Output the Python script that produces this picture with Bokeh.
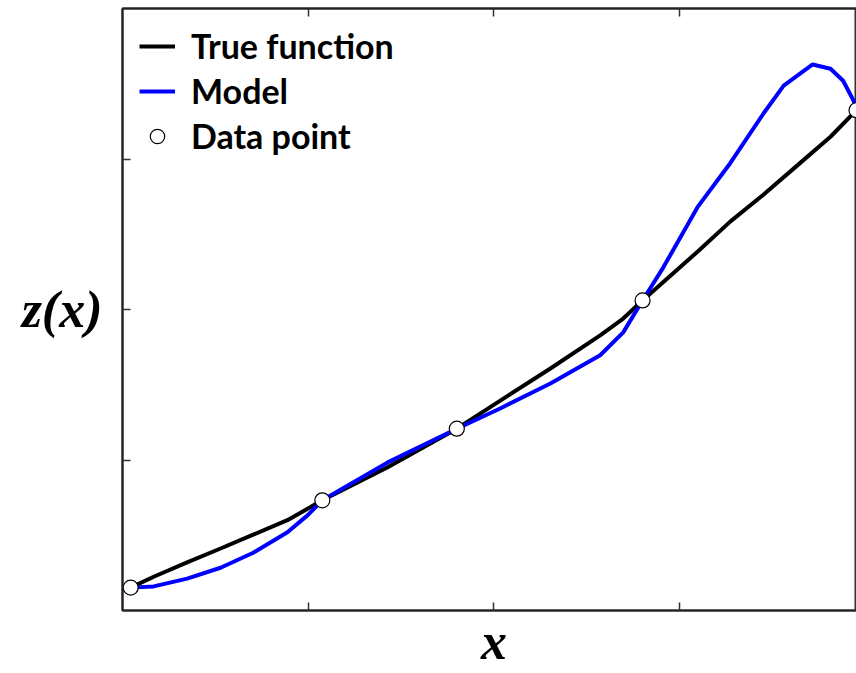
from bokeh.plotting import figure
from bokeh.models import Range1d, FixedTicker, LinearAxis, Legend, LegendItem
from bokeh.embed import file_html
from bokeh.resources import INLINE

# True function
x_true = [0.011, 0.042, 0.087, 0.132, 0.176, 0.222, 0.269, 0.357, 0.450, 0.509,
          0.576, 0.643, 0.674, 0.700, 0.774, 0.818, 0.863, 0.908, 0.953, 0.988]
y_true = [0.038, 0.056, 0.080, 0.103, 0.126, 0.150, 0.183, 0.238, 0.302, 0.349,
          0.402, 0.457, 0.485, 0.515, 0.596, 0.646, 0.691, 0.739, 0.787, 0.831]

# Model
x_model = [0.011, 0.042, 0.087, 0.132, 0.176, 0.222, 0.249, 0.269, 0.357, 0.450,
           0.509, 0.576, 0.643, 0.674, 0.700, 0.728, 0.774, 0.818, 0.863, 0.890,
           0.929, 0.953, 0.970, 0.984, 0.988]
y_model = [0.038, 0.040, 0.053, 0.071, 0.096, 0.130, 0.158, 0.183, 0.246, 0.302,
           0.336, 0.377, 0.424, 0.462, 0.515, 0.570, 0.670, 0.743, 0.826, 0.872,
           0.907, 0.900, 0.880, 0.847, 0.831]

# Data points
x_pts = [0.011, 0.269, 0.450, 0.700, 0.988]
y_pts = [0.038, 0.183, 0.302, 0.515, 0.831]

x_ticks = [0.25, 0.5, 0.75]
y_ticks = [0.25, 0.5, 0.75]
x_tick_labels = {0.25: " ", 0.5: "x", 0.75: " "}
y_label_pos = 0.5

p = figure(width=856, height=673, output_backend="svg", toolbar_location=None,
           x_range=Range1d(0, 0.988), y_range=Range1d(0, 1),
           x_axis_type=None, y_axis_type=None,
           min_border_left=122, min_border_right=0, min_border_top=8,
           min_border_bottom=63)
p.outline_line_color = "#333333"
p.outline_line_width = 2

def make_axis(ticks):
    ax = LinearAxis(ticker=FixedTicker(ticks=ticks))
    ax.major_tick_in = 8
    ax.major_tick_out = 0
    ax.minor_tick_in = 0
    ax.minor_tick_out = 0
    ax.major_label_text_font_size = "0px"
    ax.major_label_standoff = 0
    ax.axis_line_width = 2
    ax.axis_line_color = "#222222"
    ax.major_tick_line_color = "#333333"
    ax.major_tick_line_width = 1.5
    return ax

def label_axis(pos, text, standoff):
    ax = LinearAxis(ticker=FixedTicker(ticks=[pos]),
                    major_label_overrides={pos: text})
    ax.axis_line_color = None
    ax.major_tick_line_color = None
    ax.minor_tick_line_color = None
    ax.major_tick_in = 0
    ax.major_tick_out = 0
    ax.major_label_standoff = standoff
    ax.major_label_text_font = "Liberation Serif"
    ax.major_label_text_font_style = "bold italic"
    ax.major_label_text_font_size = "52px"
    ax.major_label_text_color = "black"
    return ax

# bottom axis: inward ticks plus the "x" title as the middle tick's label
xb = make_axis(x_ticks)
xb.major_label_overrides = x_tick_labels
xb.major_label_text_font = "Liberation Serif"
xb.major_label_text_font_style = "bold italic"
xb.major_label_text_font_size = "52px"
xb.major_label_text_color = "black"
xb.major_label_standoff = 2
p.add_layout(xb, "below")
p.add_layout(make_axis(x_ticks), "above")
p.add_layout(make_axis(y_ticks), "left")
p.add_layout(label_axis(y_label_pos, "z(x)", 20), "left")

r_true = p.line(x_true, y_true, line_color="black", line_width=4)
r_model = p.line(x_model, y_model, line_color="#0000ff", line_width=4)
r_pts = p.scatter(x_pts, y_pts, size=15, fill_color="white", line_color="black",
                  line_width=1.2)

legend = Legend(items=[LegendItem(label="True function", renderers=[r_true]),
                       LegendItem(label="Model", renderers=[r_model]),
                       LegendItem(label="Data point", renderers=[r_pts])],
                location="top_left",
                label_text_font="Lato", label_text_font_style="bold",
                label_text_font_size="34px", label_text_color="black",
                glyph_width=36, glyph_height=38, label_standoff=16,
                spacing=4, padding=0, margin=17,
                border_line_alpha=0, background_fill_alpha=0)
p.add_layout(legend)

open("out.html", "w").write(file_html(p, INLINE))
